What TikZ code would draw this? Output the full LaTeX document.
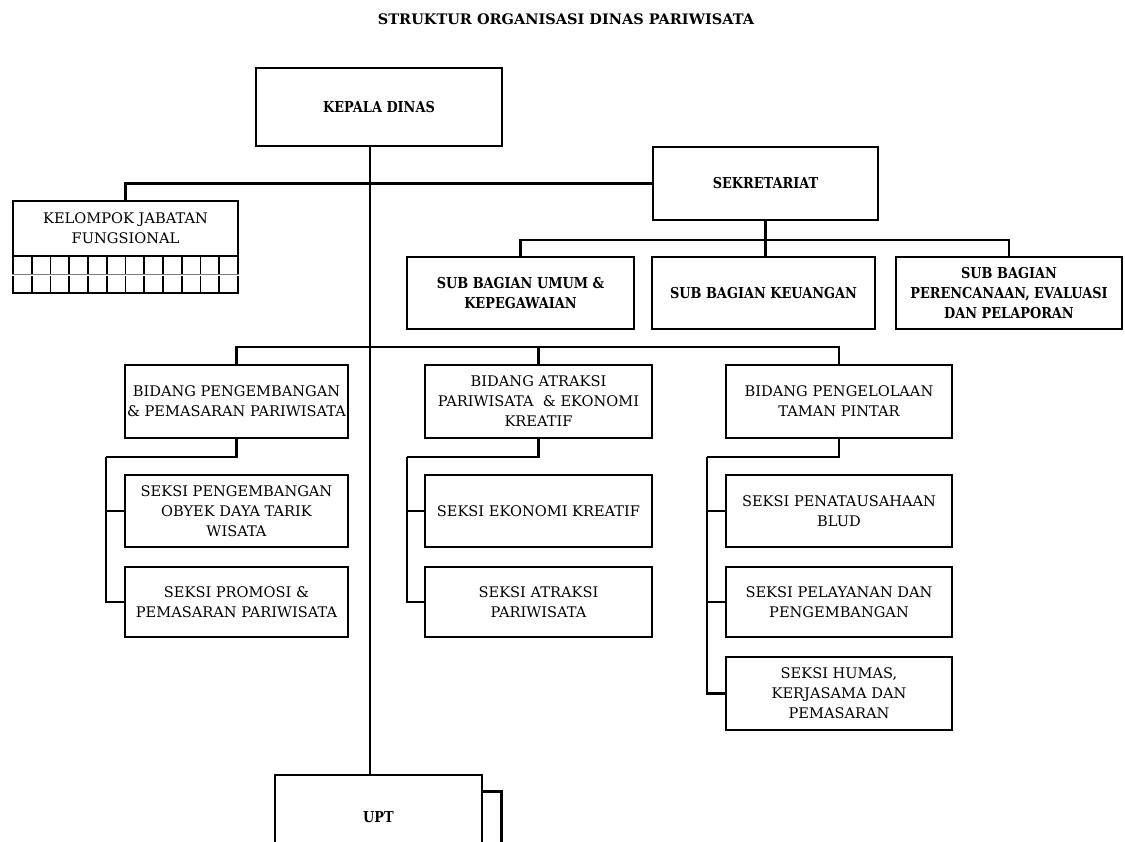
\documentclass[tikz,border=0pt]{standalone}
\usepackage{fontspec}
\setmainfont{DejaVu Serif}
\newfontfamily\tebalfont[FakeStretch=0.86]{DejaVu Serif}
\usetikzlibrary{positioning}

\begin{document}
\begin{tikzpicture}
[x=1pt,y=-1pt,
 kotak/.style={draw,line width=2.8pt,align=center,inner sep=0pt,font=\fontsize{14.6}{20}\selectfont},
 tebal/.style={kotak,font=\tebalfont\fontsize{15}{20}\selectfont\bfseries},
 garis/.style={line width=2.8pt}]
\useasboundingbox (0,0) rectangle (1125,842);
\clip (0,0) rectangle (1125,842);
\node[font=\fontsize{14.5}{16}\selectfont\bfseries] (judul) at (566,19) {STRUKTUR ORGANISASI DINAS PARIWISATA};
% pimpinan dan sekretariat
\node[tebal,minimum width=246,minimum height=78] (kepala) at (379,107) {KEPALA DINAS};
\node[tebal,minimum width=225,minimum height=73] (sekretariat) at (765.5,183.5) {SEKRETARIAT};
\node[tebal,minimum width=227,minimum height=72] (subumum) at (520.5,293) {SUB BAGIAN UMUM \&\\KEPEGAWAIAN};
\node[tebal,minimum width=223,minimum height=72] (subkeu) at (763.5,293) {SUB BAGIAN KEUANGAN};
\node[tebal,minimum width=226,minimum height=72] (subren) at (1009,293) {SUB BAGIAN\\PERENCANAAN, EVALUASI\\DAN PELAPORAN};
\node[kotak,minimum width=225,minimum height=92] (kelompok) at (125.5,247) {};
\node[font=\fontsize{14.6}{20}\selectfont,align=center] (kelompokjudul) at (125.5,228) {KELOMPOK JABATAN\\FUNGSIONAL};
% bidang
\node[kotak,minimum width=223,minimum height=73] (bidang1) at (236.5,401.5) {BIDANG PENGEMBANGAN\\\& PEMASARAN PARIWISATA};
\node[kotak,minimum width=227,minimum height=73] (bidang2) at (538.5,401.5) {BIDANG ATRAKSI\\PARIWISATA \ \& EKONOMI\\KREATIF};
\node[kotak,minimum width=226,minimum height=73] (bidang3) at (839,401.5) {BIDANG PENGELOLAAN\\TAMAN PINTAR};
% seksi
\node[kotak,minimum width=223,minimum height=72] (s11) at (236.5,511) {SEKSI PENGEMBANGAN\\OBYEK DAYA TARIK\\WISATA};
\node[kotak,minimum width=223,minimum height=70] (s12) at (236.5,602) {SEKSI PROMOSI \&\\PEMASARAN PARIWISATA};
\node[kotak,minimum width=227,minimum height=72] (s21) at (538.5,511) {SEKSI EKONOMI KREATIF};
\node[kotak,minimum width=227,minimum height=70] (s22) at (538.5,602) {SEKSI ATRAKSI\\PARIWISATA};
\node[kotak,minimum width=226,minimum height=72] (s31) at (839,511) {SEKSI PENATAUSAHAAN\\BLUD};
\node[kotak,minimum width=226,minimum height=70] (s32) at (839,602) {SEKSI PELAYANAN DAN\\PENGEMBANGAN};
\node[kotak,minimum width=226,minimum height=73] (s33) at (839,693.5) {SEKSI HUMAS,\\KERJASAMA DAN\\PEMASARAN};
\node[tebal,minimum width=207,minimum height=84] (upt) at (378.5,817) {UPT};
% titik bantu
\coordinate (batang) at (370,0);
\coordinate (subbus) at (0,240);
\coordinate (bidbus) at (0,347);
\coordinate (r1) at (106,457);
\coordinate (r2) at (407,457);
\coordinate (r3) at (707,457);
% garis
\draw[garis] (kepala.south -| batang) -- (upt.north -| batang);
\draw[garis] (kelompok.north) |- (sekretariat.west);
\draw[garis] (sekretariat.south) -- (sekretariat.south |- subkeu.north);
\draw[garis] (subumum.north) -- (subumum.north |- subbus) -- (subren.north |- subbus) -- (subren.north);
\draw[garis] (bidang1.north) -- (bidang1.north |- bidbus) -- (bidang3.north |- bidbus) -- (bidang3.north);
\draw[garis] (bidang2.north) -- (bidang2.north |- bidbus);
\foreach \b/\r in {bidang1/r1,bidang2/r2,bidang3/r3}
\draw[garis] (\b.south) |- (\r);
\foreach \r/\s in {r1/s11,r1/s12,r2/s21,r2/s22,r3/s31,r3/s32,r3/s33}
\draw[garis] (\r) |- (\s.west);
\draw[garis] ([yshift=-18pt]upt.north east) -- ++(18,0) -- ++(0,80);
% kisi jabatan fungsional
\draw[line width=1.6pt] (kelompok.west |- 0,256) -- (kelompok.east |- 0,256);
\foreach \i in {1,...,11}
\draw[line width=1.6pt] ({13+\i*18.75},256) -- ({13+\i*18.75},293);
\draw[gray,line width=0.9pt,double=white,double distance=0.8pt] (kelompok.west |- 0,275) -- (kelompok.east |- 0,275);
\end{tikzpicture}
\end{document}
